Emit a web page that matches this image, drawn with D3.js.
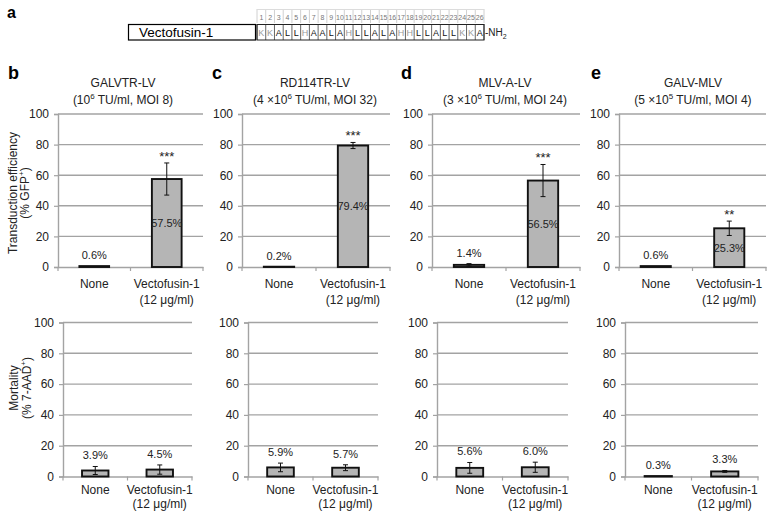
<!DOCTYPE html>
<html><head><meta charset="utf-8">
<script src="https://cdn.jsdelivr.net/npm/d3@7"></script>
<style>body{margin:0;background:#fff}svg{display:block}text{font-family:"Liberation Sans",Arial,Helvetica,sans-serif}</style>
</head><body>
<svg id="c" width="768" height="512"></svg>
<script>
// ---------- data ----------
const panelLetters = ["b","c","d","e"];
const titles = ["GALVTR-LV","RD114TR-LV","MLV-A-LV","GALV-MLV"];
const subPre = ["(10","(4 \u00d710","(3 \u00d710","(5 \u00d710"];
const subExp = ["6","6","6","5"];
const subPost = [" TU/ml, MOI 8)"," TU/ml, MOI 32)"," TU/ml, MOI 24)"," TU/ml, MOI 4)"];
const categories = ["None","Vectofusin-1"];
const categorySub = ["","(12 \u03bcg/ml)"];
const transNone = [0.6, 0.2, 1.4, 0.6];
const transVec = [57.5, 79.4, 56.5, 25.3];
const transNoneErr = [0, 0, 0.8, 0];
const transVecErr = [10.5, 2.0, 10.5, 4.7];
const stars = ["***","***","***","**"];
const mortNone = [3.9, 5.9, 5.6, 0.3];
const mortVec = [4.5, 5.7, 6.0, 3.3];
const mortNoneErr = [2.6, 2.8, 3.5, 0.1];
const mortVecErr = [3.0, 1.9, 3.3, 0.6];
const yTicks = [0,20,40,60,80,100];
const sequence = ["K","K","A","L","L","H","A","A","L","A","H","L","L","A","L","A","H","H","L","L","A","L","L","K","K","A"];
const grayResidues = ["K","H"];

// ---------- layout ----------
const svg = d3.select("#c");
const gridColor = "#a3a3a3";
const topX = [[58,203],[242,390],[432,580],[619,766]];
const botX = [[63,192],[248,378],[437,568],[625,758]];
const topY = [267,114], botY = [476.5,322.5];
const titleCx = [123,315,505,693];
const letterX = [8,212,401,591];

// panel a
svg.append("text").attr("x",7).attr("y",18).attr("font-size",16).attr("font-weight","bold").text("a");
svg.append("rect").attr("x",128.5).attr("y",24.5).attr("width",127).attr("height",15.5)
  .attr("fill","#fff").attr("stroke","#000").attr("stroke-width",1.2);
svg.append("text").attr("x",139).attr("y",37).attr("font-size",13.5).text("Vectofusin-1");
const seqX = d3.scaleBand().domain(d3.range(sequence.length)).range([257,484]);
const seqG = svg.append("g");
seqG.selectAll("line.n").data(d3.range(sequence.length+1)).join("line")
  .attr("x1",i=>seqX.step()*i+257).attr("x2",i=>seqX.step()*i+257)
  .attr("y1",9).attr("y2",23).attr("stroke","#d0d0d0").attr("stroke-width",1);
seqG.append("line").attr("x1",257).attr("x2",484).attr("y1",9.5).attr("y2",9.5).attr("stroke","#dcdcdc");
seqG.selectAll("text.n").data(sequence).join("text")
  .attr("x",(d,i)=>seqX(i)+seqX.bandwidth()/2).attr("y",19.5).attr("text-anchor","middle")
  .attr("font-size",7).attr("fill","#777").text((d,i)=>i+1);
seqG.selectAll("line.r").data(d3.range(sequence.length+1)).join("line")
  .attr("x1",i=>seqX.step()*i+257).attr("x2",i=>seqX.step()*i+257)
  .attr("y1",24).attr("y2",40).attr("stroke","#555").attr("stroke-width",0.9);
seqG.append("rect").attr("x",257).attr("y",24.5).attr("width",227).attr("height",15.5)
  .attr("fill","none").attr("stroke","#222").attr("stroke-width",1);
seqG.selectAll("text.r").data(sequence).join("text")
  .attr("x",(d,i)=>seqX(i)+seqX.bandwidth()/2).attr("y",35.5).attr("text-anchor","middle")
  .attr("font-size",9).attr("fill",d=>grayResidues.includes(d)?"#9a9a9a":"#111").text(d=>d);
const nh = svg.append("text").attr("x",485).attr("y",36).attr("font-size",10).attr("fill","#222");
nh.append("tspan").text("-NH");
nh.append("tspan").attr("font-size",7).attr("dy",3).text("2");

// y-axis titles
function yTitle(x1,x2,cy,line1,main2,sup2,end2){
  svg.append("text").attr("transform",`translate(${x1},${cy}) rotate(-90)`).attr("text-anchor","middle")
    .attr("font-size",12).attr("fill","#222").text(line1);
  const t = svg.append("text").attr("transform",`translate(${x2},${cy}) rotate(-90)`).attr("text-anchor","middle")
    .attr("font-size",12).attr("fill","#222");
  t.append("tspan").text(main2);
  t.append("tspan").attr("font-size",8).attr("dy",-5).text(sup2);
  t.append("tspan").attr("dy",5).text(end2);
}
yTitle(17,29,193,"Transduction efficiency","(% GFP","+",")");
yTitle(18,31,388,"Mortality","(% 7-AAD","+",")");

function drawPanel(xr, yr, noneV, vecV, noneE, vecE, starTxt, valueInside, lab1, lab2){
  const g = svg.append("g");
  const y = d3.scaleLinear().domain([0,100]).range(yr);
  const x = d3.scaleBand().domain(categories).range(xr).paddingInner(0.59).paddingOuter(0.295);
  // grid
  g.selectAll("line.grid").data(yTicks.filter(t=>t>0)).join("line")
    .attr("x1",xr[0]).attr("x2",xr[1]).attr("y1",d=>y(d)).attr("y2",d=>y(d))
    .attr("stroke",gridColor).attr("stroke-width",1.4);
  // y axis
  const ya = g.append("g").attr("transform",`translate(${xr[0]},0)`)
    .call(d3.axisLeft(y).tickValues(yTicks).tickSize(4).tickPadding(5));
  ya.select(".domain").attr("stroke",gridColor).attr("stroke-width",1.4);
  ya.selectAll(".tick line").attr("stroke",gridColor).attr("stroke-width",1.2);
  ya.selectAll(".tick text").attr("font-size",12).attr("fill","#222").attr("font-family","Liberation Sans, Arial, sans-serif");
  // x axis
  const xa = g.append("g").attr("transform",`translate(0,${yr[0]})`)
    .call(d3.axisBottom(x).tickSize(0).tickFormat(""));
  xa.select(".domain").attr("stroke",gridColor).attr("stroke-width",1.4);
  const bounds = [xr[0], (xr[0]+xr[1])/2, xr[1]];
  g.selectAll("line.xt").data(bounds).join("line")
    .attr("x1",d=>d).attr("x2",d=>d).attr("y1",yr[0]).attr("y2",yr[0]+4)
    .attr("stroke",gridColor).attr("stroke-width",1.2);
  // category labels
  categories.forEach((c,i)=>{
    const cx = x(c)+x.bandwidth()/2;
    g.append("text").attr("x",cx).attr("y",yr[0]+lab1).attr("text-anchor","middle").attr("font-size",12).attr("fill","#222").text(c);
    if(categorySub[i]) g.append("text").attr("x",cx).attr("y",yr[0]+lab2).attr("text-anchor","middle").attr("font-size",12).attr("fill","#222").text(categorySub[i]);
  });
  const vals = [noneV, vecV], errs = [noneE, vecE];
  // bars
  g.selectAll("rect.bar").data(categories).join("rect")
    .attr("x",c=>x(c)).attr("width",x.bandwidth())
    .attr("y",(c,i)=>y(vals[i])).attr("height",(c,i)=>y(0)-y(vals[i]))
    .attr("fill","#b5b5b5").attr("stroke","#111").attr("stroke-width",1.9);
  // error bars
  categories.forEach((c,i)=>{
    if(errs[i] < 0.3) return;
    const cx = x(c)+x.bandwidth()/2;
    const y1 = y(vals[i]+errs[i]), y2 = y(vals[i]-errs[i]);
    g.append("line").attr("x1",cx).attr("x2",cx).attr("y1",y1).attr("y2",y2).attr("stroke","#111").attr("stroke-width",1);
    [y1,y2].forEach(yy=>g.append("line").attr("x1",cx-2.5).attr("x2",cx+2.5).attr("y1",yy).attr("y2",yy).attr("stroke","#111").attr("stroke-width",1));
  });
  // value labels
  categories.forEach((c,i)=>{
    const cx = x(c)+x.bandwidth()/2;
    const lbl = vals[i].toFixed(1)+"%";
    if(valueInside && i===1){
      g.append("text").attr("x",cx).attr("y",(y(vals[i])+y(0))/2+4).attr("text-anchor","middle").attr("font-size",11).attr("fill","#222").text(lbl);
    } else {
      g.append("text").attr("x",cx).attr("y",y(vals[i]+errs[i])-7).attr("text-anchor","middle").attr("font-size",11).attr("fill","#222").text(lbl);
    }
  });
  if(starTxt){
    const cx = x(categories[1])+x.bandwidth()/2;
    g.append("text").attr("x",cx).attr("y",y(vecV+vecE)-2).attr("text-anchor","middle").attr("font-size",13).attr("fill","#222").text(starTxt);
  }
}

for(let p=0;p<4;p++){
  drawPanel(topX[p], topY, transNone[p], transVec[p], transNoneErr[p], transVecErr[p], stars[p], true, 21, 37);
  drawPanel(botX[p], botY, mortNone[p], mortVec[p], mortNoneErr[p], mortVecErr[p], null, false, 17.5, 31.5);
  svg.append("text").attr("x",letterX[p]).attr("y",79).attr("font-size",18).attr("font-weight","bold").text(panelLetters[p]);
  svg.append("text").attr("x",titleCx[p]).attr("y",87).attr("text-anchor","middle").attr("font-size",12).attr("fill","#222").text(titles[p]);
  const st = svg.append("text").attr("x",titleCx[p]).attr("y",104).attr("text-anchor","middle").attr("font-size",12).attr("fill","#222");
  st.append("tspan").text(subPre[p]);
  st.append("tspan").attr("font-size",8).attr("dy",-5).text(subExp[p]);
  st.append("tspan").attr("dy",5).text(subPost[p]);
}
</script>
</body></html>
